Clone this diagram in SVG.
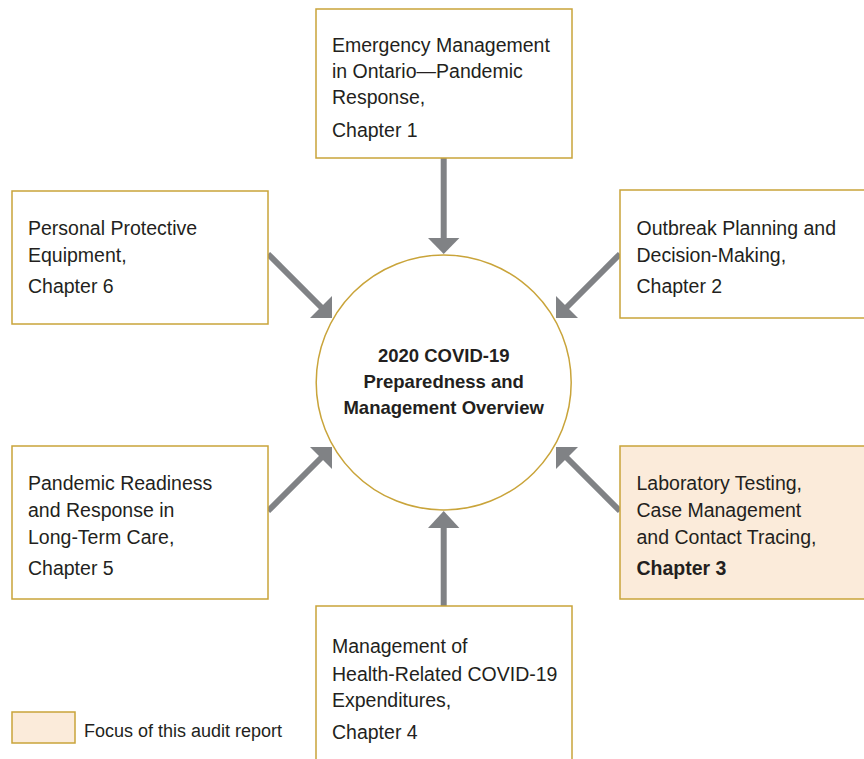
<svg xmlns="http://www.w3.org/2000/svg" width="864" height="759" viewBox="0 0 864 759">
<style>
.box{fill:#ffffff;stroke:#C9A43A;stroke-width:1.5}
.focus{fill:#FBEBDA;stroke:#C9A43A;stroke-width:1.5}
.t{font-family:"Liberation Sans",Arial,sans-serif;font-size:19.5px;fill:#231F20}
.b{font-family:"Liberation Sans",Arial,sans-serif;font-size:18.5px;font-weight:bold;fill:#231F20}
.shaft{stroke:#808285;stroke-width:6;fill:none}
.head{fill:#808285}
</style>
<rect width="864" height="759" fill="#ffffff"/>
<g id="connectors">
<line class="shaft" x1="443.7" y1="158" x2="443.7" y2="239"/>
<polygon class="head" points="428,238 459.4,238 443.7,254"/>
<line class="shaft" x1="443.7" y1="606" x2="443.7" y2="527"/>
<polygon class="head" points="428,528 459.4,528 443.7,511"/>
<line class="shaft" x1="268" y1="254" x2="322" y2="308"/>
<polygon class="head" points="310,318 332,318 332,296"/>
<line class="shaft" x1="620" y1="254" x2="566" y2="308"/>
<polygon class="head" points="578,318 556,318 556,296"/>
<line class="shaft" x1="268" y1="511" x2="322" y2="457"/>
<polygon class="head" points="310,447 332,447 332,469"/>
<line class="shaft" x1="620" y1="511" x2="566" y2="457"/>
<polygon class="head" points="578,447 556,447 556,469"/>
</g>
<g id="center">
<circle cx="443.7" cy="382.5" r="127.5" fill="#ffffff" stroke="#C9A43A" stroke-width="1.5"/>
<text class="b" text-anchor="middle" x="443.7" y="361.5">2020 COVID-19</text>
<text class="b" text-anchor="middle" x="443.7" y="387.5">Preparedness and</text>
<text class="b" text-anchor="middle" x="443.7" y="414">Management Overview</text>
</g>
<g id="ch1">
<rect class="box" x="316" y="9" width="256" height="149"/>
<text class="t" x="332" y="52">Emergency Management</text>
<text class="t" x="332" y="78">in Ontario—Pandemic</text>
<text class="t" x="332" y="104">Response,</text>
<text class="t" x="332" y="137">Chapter 1</text>
</g>
<g id="ch2">
<rect class="box" x="620" y="190" width="250" height="128"/>
<text class="t" x="636.5" y="235">Outbreak Planning and</text>
<text class="t" x="636.5" y="261.5">Decision-Making,</text>
<text class="t" x="636.5" y="293">Chapter 2</text>
</g>
<g id="ch3">
<rect class="focus" x="620" y="446" width="250" height="153"/>
<text class="t" x="636.5" y="490">Laboratory Testing,</text>
<text class="t" x="636.5" y="517">Case Management</text>
<text class="t" x="636.5" y="544">and Contact Tracing,</text>
<text class="b" x="636.5" y="575" style="font-size:19.5px">Chapter 3</text>
</g>
<g id="ch4">
<rect class="box" x="316" y="606" width="256" height="170"/>
<text class="t" x="332" y="653">Management of</text>
<text class="t" x="332" y="680.5">Health-Related COVID-19</text>
<text class="t" x="332" y="706.5">Expenditures,</text>
<text class="t" x="332" y="738.5">Chapter 4</text>
</g>
<g id="ch5">
<rect class="box" x="12" y="446" width="256" height="153"/>
<text class="t" x="28" y="490">Pandemic Readiness</text>
<text class="t" x="28" y="517">and Response in</text>
<text class="t" x="28" y="544">Long-Term Care,</text>
<text class="t" x="28" y="575">Chapter 5</text>
</g>
<g id="ch6">
<rect class="box" x="12" y="191" width="256" height="133"/>
<text class="t" x="28" y="235">Personal Protective</text>
<text class="t" x="28" y="261.5">Equipment,</text>
<text class="t" x="28" y="293">Chapter 6</text>
</g>
<g id="legend">
<rect class="focus" x="12" y="712" width="63" height="31"/>
<text class="t" x="84" y="737" style="font-size:18px">Focus of this audit report</text>
</g>
</svg>
